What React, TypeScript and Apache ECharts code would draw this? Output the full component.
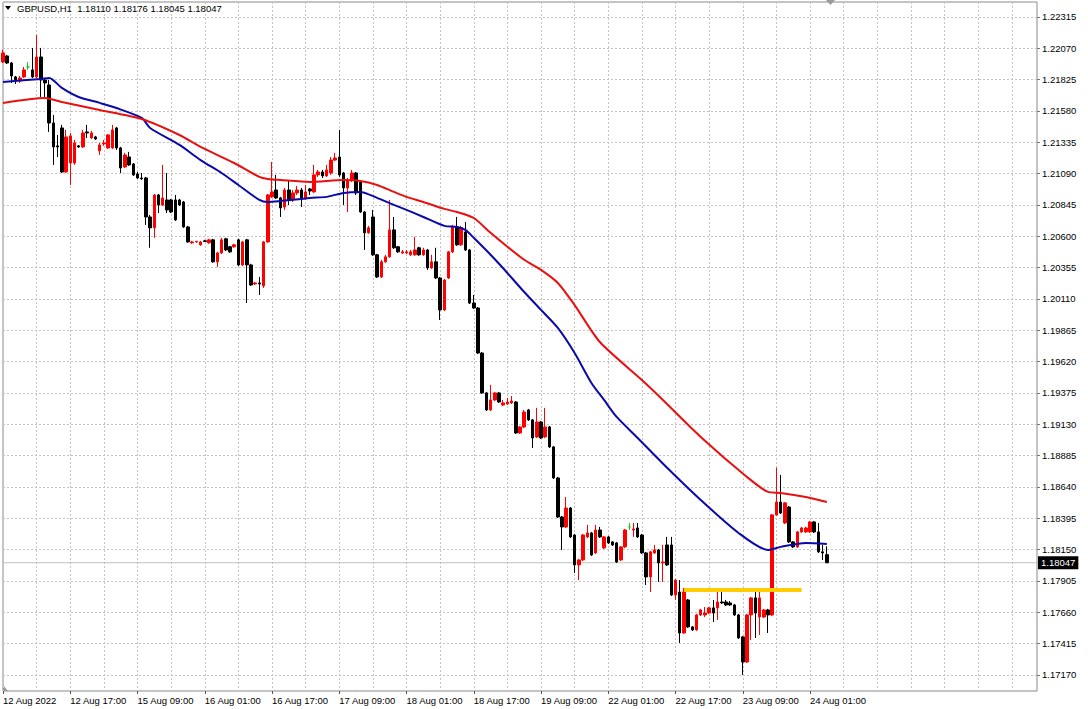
import React, { useEffect, useRef } from 'react';
import * as echarts from 'echarts';

const symbol = 'GBPUSD';
const timeframe = 'H1';
const FONT = "'Liberation Sans', Arial, sans-serif";

// x tick labels every 16 bars (MT4 style), first bar = 12 Aug 2022 01:00
const xTickLabels = [
  '12 Aug 2022', '12 Aug 17:00', '15 Aug 09:00', '16 Aug 01:00', '16 Aug 17:00',
  '17 Aug 09:00', '18 Aug 01:00', '18 Aug 17:00', '19 Aug 09:00', '22 Aug 01:00',
  '22 Aug 17:00', '23 Aug 09:00', '24 Aug 01:00',
];

const yTicks = [
  1.17170, 1.17415, 1.17660, 1.17905, 1.18150, 1.18395, 1.18640, 1.18885, 1.19130,
  1.19375, 1.19620, 1.19865, 1.20110, 1.20355, 1.20600, 1.20845, 1.21090, 1.21335,
  1.21580, 1.21825, 1.22070, 1.22315,
];

// [open, close, low, high]
const ohlc: number[][] = [
  [1.21963, 1.22034, 1.21955, 1.22057],
  [1.22010, 1.21955, 1.21948, 1.22018],
  [1.21955, 1.21854, 1.21799, 1.21963],
  [1.21846, 1.21815, 1.21791, 1.21854],
  [1.21815, 1.21838, 1.21799, 1.21854],
  [1.21846, 1.21901, 1.21838, 1.21924],
  [1.21924, 1.21924, 1.21901, 1.21963],
  [1.21901, 1.21846, 1.21838, 1.22073],
  [1.21846, 1.22002, 1.21838, 1.22174],
  [1.22002, 1.21822, 1.21689, 1.22073],
  [1.21822, 1.21799, 1.21689, 1.21830],
  [1.21783, 1.21486, 1.21416, 1.21822],
  [1.21486, 1.21299, 1.21158, 1.21549],
  [1.21307, 1.21299, 1.21220, 1.21392],
  [1.21447, 1.21103, 1.21095, 1.21471],
  [1.21103, 1.21377, 1.21095, 1.21432],
  [1.21173, 1.21385, 1.21001, 1.21408],
  [1.21173, 1.21330, 1.21158, 1.21353],
  [1.21307, 1.21299, 1.21291, 1.21314],
  [1.21299, 1.21408, 1.21291, 1.21432],
  [1.21416, 1.21408, 1.21369, 1.21471],
  [1.21369, 1.21408, 1.21361, 1.21424],
  [1.21377, 1.21361, 1.21353, 1.21385],
  [1.21268, 1.21314, 1.21236, 1.21330],
  [1.21322, 1.21330, 1.21307, 1.21353],
  [1.21291, 1.21392, 1.21283, 1.21400],
  [1.21291, 1.21432, 1.21283, 1.21471],
  [1.21447, 1.21291, 1.21275, 1.21455],
  [1.21291, 1.21134, 1.21095, 1.21299],
  [1.21142, 1.21236, 1.21134, 1.21252],
  [1.21220, 1.21158, 1.21150, 1.21260],
  [1.21165, 1.21080, 1.21072, 1.21173],
  [1.21087, 1.21056, 1.21048, 1.21103],
  [1.21056, 1.21050, 1.21040, 1.21095],
  [1.21056, 1.20751, 1.20689, 1.21064],
  [1.20751, 1.20666, 1.20510, 1.20767],
  [1.20666, 1.20923, 1.20588, 1.20931],
  [1.20923, 1.20845, 1.20782, 1.20931],
  [1.20845, 1.20900, 1.20837, 1.21158],
  [1.20884, 1.20806, 1.20782, 1.21095],
  [1.20884, 1.20790, 1.20782, 1.20892],
  [1.20884, 1.20728, 1.20720, 1.20923],
  [1.20884, 1.20845, 1.20837, 1.20892],
  [1.20868, 1.20673, 1.20666, 1.20876],
  [1.20673, 1.20556, 1.20549, 1.20681],
  [1.20549, 1.20556, 1.20541, 1.20564],
  [1.20556, 1.20560, 1.20549, 1.20564],
  [1.20533, 1.20556, 1.20525, 1.20564],
  [1.20564, 1.20560, 1.20556, 1.20572],
  [1.20549, 1.20572, 1.20541, 1.20580],
  [1.20572, 1.20400, 1.20393, 1.20580],
  [1.20400, 1.20470, 1.20360, 1.20478],
  [1.20470, 1.20572, 1.20462, 1.20588],
  [1.20580, 1.20493, 1.20485, 1.20588],
  [1.20518, 1.20478, 1.20470, 1.20525],
  [1.20518, 1.20533, 1.20510, 1.20541],
  [1.20572, 1.20376, 1.20368, 1.20580],
  [1.20376, 1.20556, 1.20368, 1.20564],
  [1.20572, 1.20376, 1.20078, 1.20580],
  [1.20376, 1.20219, 1.20212, 1.20385],
  [1.20227, 1.20235, 1.20219, 1.20243],
  [1.20235, 1.20227, 1.20141, 1.20282],
  [1.20212, 1.20556, 1.20196, 1.20564],
  [1.20556, 1.20923, 1.20549, 1.20931],
  [1.20908, 1.20947, 1.20900, 1.21181],
  [1.20962, 1.20900, 1.20892, 1.21080],
  [1.20900, 1.20822, 1.20751, 1.20908],
  [1.20829, 1.20962, 1.20806, 1.20978],
  [1.20962, 1.20884, 1.20845, 1.21040],
  [1.20884, 1.20939, 1.20868, 1.20962],
  [1.20939, 1.20962, 1.20923, 1.20993],
  [1.20962, 1.20900, 1.20829, 1.20978],
  [1.20900, 1.20947, 1.20884, 1.21001],
  [1.20970, 1.20954, 1.20923, 1.20978],
  [1.20947, 1.21080, 1.20939, 1.21158],
  [1.21080, 1.21103, 1.21064, 1.21119],
  [1.21103, 1.21072, 1.21056, 1.21119],
  [1.21072, 1.21119, 1.21064, 1.21158],
  [1.21095, 1.21196, 1.21080, 1.21220],
  [1.21196, 1.21212, 1.21189, 1.21252],
  [1.21220, 1.21080, 1.21064, 1.21432],
  [1.21095, 1.20978, 1.20845, 1.21103],
  [1.20978, 1.21040, 1.20790, 1.21056],
  [1.21040, 1.21095, 1.21025, 1.21119],
  [1.21095, 1.20939, 1.20923, 1.21103],
  [1.21025, 1.20790, 1.20782, 1.21040],
  [1.20790, 1.20627, 1.20493, 1.20798],
  [1.20627, 1.20666, 1.20619, 1.20681],
  [1.20751, 1.20455, 1.20447, 1.20806],
  [1.20455, 1.20282, 1.20274, 1.20462],
  [1.20282, 1.20400, 1.20274, 1.20416],
  [1.20400, 1.20439, 1.20393, 1.20455],
  [1.20439, 1.20650, 1.20432, 1.20884],
  [1.20650, 1.20510, 1.20501, 1.20751],
  [1.20518, 1.20478, 1.20470, 1.20525],
  [1.20470, 1.20478, 1.20462, 1.20493],
  [1.20470, 1.20478, 1.20462, 1.20493],
  [1.20455, 1.20478, 1.20447, 1.20493],
  [1.20455, 1.20493, 1.20447, 1.20595],
  [1.20510, 1.20455, 1.20447, 1.20518],
  [1.20455, 1.20493, 1.20447, 1.20510],
  [1.20493, 1.20352, 1.20337, 1.20501],
  [1.20352, 1.20400, 1.20345, 1.20455],
  [1.20400, 1.20274, 1.20266, 1.20510],
  [1.20274, 1.20024, 1.19946, 1.20282],
  [1.20024, 1.20258, 1.20016, 1.20266],
  [1.20274, 1.20478, 1.20266, 1.20485],
  [1.20478, 1.20673, 1.20470, 1.20689],
  [1.20673, 1.20533, 1.20525, 1.20751],
  [1.20533, 1.20666, 1.20525, 1.20681],
  [1.20634, 1.20493, 1.20485, 1.20712],
  [1.20493, 1.20078, 1.20070, 1.20501],
  [1.20078, 1.20039, 1.20031, 1.20141],
  [1.20039, 1.19687, 1.19680, 1.20047],
  [1.19687, 1.19375, 1.19367, 1.19695],
  [1.19375, 1.19242, 1.19234, 1.19383],
  [1.19242, 1.19320, 1.19234, 1.19437],
  [1.19320, 1.19375, 1.19312, 1.19383],
  [1.19375, 1.19304, 1.19297, 1.19383],
  [1.19281, 1.19297, 1.19273, 1.19320],
  [1.19289, 1.19304, 1.19281, 1.19336],
  [1.19297, 1.19312, 1.19289, 1.19351],
  [1.19304, 1.19062, 1.19054, 1.19312],
  [1.19062, 1.19109, 1.19054, 1.19117],
  [1.19109, 1.19226, 1.19101, 1.19242],
  [1.19242, 1.19164, 1.19156, 1.19250],
  [1.19164, 1.19023, 1.18945, 1.19172],
  [1.19031, 1.19148, 1.19023, 1.19258],
  [1.19148, 1.19023, 1.19015, 1.19156],
  [1.19031, 1.19109, 1.19023, 1.19258],
  [1.19109, 1.18953, 1.18945, 1.19117],
  [1.18953, 1.18710, 1.18702, 1.18960],
  [1.18710, 1.18405, 1.18397, 1.18718],
  [1.18405, 1.18327, 1.18147, 1.18413],
  [1.18327, 1.18475, 1.18319, 1.18561],
  [1.18475, 1.18249, 1.18241, 1.18483],
  [1.18264, 1.18030, 1.17967, 1.18272],
  [1.18030, 1.18069, 1.17912, 1.18077],
  [1.18069, 1.18264, 1.18061, 1.18272],
  [1.18249, 1.18280, 1.18241, 1.18343],
  [1.18280, 1.18108, 1.18100, 1.18288],
  [1.18124, 1.18303, 1.18116, 1.18343],
  [1.18303, 1.18249, 1.18241, 1.18327],
  [1.18163, 1.18249, 1.18155, 1.18257],
  [1.18249, 1.18202, 1.18194, 1.18257],
  [1.18210, 1.18186, 1.18178, 1.18217],
  [1.18202, 1.18053, 1.18046, 1.18210],
  [1.18069, 1.18171, 1.18061, 1.18178],
  [1.18171, 1.18303, 1.18163, 1.18311],
  [1.18327, 1.18327, 1.18303, 1.18358],
  [1.18303, 1.18311, 1.18249, 1.18358],
  [1.18319, 1.18249, 1.18241, 1.18358],
  [1.18264, 1.18124, 1.18116, 1.18272],
  [1.18124, 1.17936, 1.17873, 1.18132],
  [1.17936, 1.18132, 1.17818, 1.18140],
  [1.18124, 1.18147, 1.18116, 1.18186],
  [1.18147, 1.18046, 1.17897, 1.18155],
  [1.18046, 1.18053, 1.17897, 1.18186],
  [1.18186, 1.18030, 1.18022, 1.18249],
  [1.18186, 1.17795, 1.17787, 1.18249],
  [1.17795, 1.17912, 1.17756, 1.17920],
  [1.17818, 1.17498, 1.17420, 1.17912],
  [1.17498, 1.17818, 1.17490, 1.17850],
  [1.17756, 1.17545, 1.17537, 1.17764],
  [1.17545, 1.17522, 1.17514, 1.17553],
  [1.17522, 1.17639, 1.17514, 1.17647],
  [1.17639, 1.17678, 1.17631, 1.17686],
  [1.17639, 1.17654, 1.17623, 1.17701],
  [1.17654, 1.17694, 1.17647, 1.17701],
  [1.17694, 1.17654, 1.17584, 1.17756],
  [1.17694, 1.17740, 1.17600, 1.17818],
  [1.17740, 1.17733, 1.17725, 1.17850],
  [1.17740, 1.17717, 1.17709, 1.17756],
  [1.17733, 1.17717, 1.17709, 1.17748],
  [1.17717, 1.17639, 1.17631, 1.17725],
  [1.17639, 1.17459, 1.17451, 1.17647],
  [1.17467, 1.17271, 1.17170, 1.17475],
  [1.17271, 1.17639, 1.17263, 1.17647],
  [1.17639, 1.17772, 1.17443, 1.17779],
  [1.17772, 1.17654, 1.17459, 1.17818],
  [1.17623, 1.17772, 1.17482, 1.17834],
  [1.17623, 1.17678, 1.17615, 1.17686],
  [1.17678, 1.17639, 1.17498, 1.17686],
  [1.17639, 1.18421, 1.17631, 1.18428],
  [1.18421, 1.18522, 1.18413, 1.18790],
  [1.18522, 1.18436, 1.18428, 1.18734],
  [1.18358, 1.18515, 1.18350, 1.18522],
  [1.18483, 1.18210, 1.18202, 1.18491],
  [1.18210, 1.18171, 1.18163, 1.18217],
  [1.18171, 1.18288, 1.18163, 1.18296],
  [1.18288, 1.18319, 1.18280, 1.18327],
  [1.18288, 1.18319, 1.18280, 1.18327],
  [1.18288, 1.18366, 1.18280, 1.18374],
  [1.18366, 1.18288, 1.18280, 1.18374],
  [1.18288, 1.18132, 1.18124, 1.18358],
  [1.18132, 1.18124, 1.18069, 1.18186],
  [1.18110, 1.18047, 1.18045, 1.18176],
];

// moving averages: [bar index, value]
const maBlue: number[][] = [
  [0, 1.21807], [9, 1.21830], [11, 1.21838], [14, 1.21760], [18, 1.21689], [23, 1.21643],
  [27, 1.21603], [33, 1.21525], [35, 1.21447], [42, 1.21314], [47, 1.21196], [52, 1.21095],
  [56, 1.21001], [61, 1.20884], [63, 1.20868], [66, 1.20876], [73, 1.20900], [77, 1.20908],
  [81, 1.20939], [85, 1.20947], [89, 1.20900], [93, 1.20845], [96, 1.20806], [100, 1.20751],
  [105, 1.20681], [108, 1.20673], [110, 1.20650], [112, 1.20588], [116, 1.20455], [120, 1.20313],
  [124, 1.20164], [128, 1.20024], [132, 1.19883], [136, 1.19687], [140, 1.19453], [143, 1.19320],
  [146, 1.19187], [151, 1.19023], [158, 1.18790], [166, 1.18538], [175, 1.18280], [182, 1.18147],
  [185, 1.18171], [191, 1.18202], [196, 1.18194],
];
const maRed: number[][] = [
  [0, 1.21643], [10, 1.21682], [14, 1.21650], [23, 1.21588], [33, 1.21517], [42, 1.21392],
  [47, 1.21299], [55, 1.21173], [61, 1.21064], [63, 1.21048], [66, 1.21040], [73, 1.21025],
  [81, 1.21040], [85, 1.21033], [89, 1.21001], [93, 1.20947], [96, 1.20908], [100, 1.20868],
  [105, 1.20814], [108, 1.20790], [112, 1.20743], [116, 1.20627], [120, 1.20518], [124, 1.20416],
  [128, 1.20337], [132, 1.20235], [136, 1.20062], [142, 1.19773], [152, 1.19476], [157, 1.19320],
  [166, 1.19031], [177, 1.18718], [182, 1.18601], [185, 1.18593], [191, 1.18561], [196, 1.18522],
];

const levelPrice = 1.17834;
const levelFrom = 162;
const levelTo = 190;
const lastPrice = 1.18047;
const TOTAL_SLOTS = 247;

function buildCategories(): string[] {
  const mons = ['Jan', 'Feb', 'Mar', 'Apr', 'May', 'Jun', 'Jul', 'Aug', 'Sep', 'Oct', 'Nov', 'Dec'];
  const out: string[] = [];
  let t = Date.UTC(2022, 7, 12, 1);
  while (out.length < TOTAL_SLOTS) {
    const d = new Date(t);
    const wd = d.getUTCDay();
    if (wd !== 0 && wd !== 6) {
      const hh = String(d.getUTCHours()).padStart(2, '0');
      out.push(`${d.getUTCDate()} ${mons[d.getUTCMonth()]} ${hh}:00`);
    }
    t += 3600000;
  }
  return out;
}

export default function App() {
  const ref = useRef<HTMLDivElement>(null);
  useEffect(() => {
    if (!ref.current) return;
    const chart = echarts.init(ref.current, undefined, { renderer: 'svg' });
    const categories = buildCategories();
    const last = ohlc[ohlc.length - 1];
    const titleText = `${symbol},${timeframe}  ${last[0].toFixed(5)} ${last[3].toFixed(5)} ${last[2].toFixed(5)} ${last[1].toFixed(5)}`;
    const labelFn = (idx: number) => idx % 16 === 0 && idx / 16 < xTickLabels.length;
    chart.setOption({
      animation: false,
      backgroundColor: '#ffffff',
      textStyle: { fontFamily: FONT },
      title: {
        text: titleText,
        left: 17,
        top: 3,
        padding: 0,
        textStyle: { fontSize: 9.5, fontWeight: 'normal', color: '#000', fontFamily: FONT },
      },
      grid: {
        left: 3, right: 51, top: 2, bottom: 18,
        show: true, borderColor: '#8a8a8a', borderWidth: 1, backgroundColor: '#fff',
      },
      xAxis: {
        type: 'category',
        data: categories,
        boundaryGap: false,
        axisLine: { show: false },
        axisTick: { show: true, interval: labelFn, length: 3, lineStyle: { color: '#555' } },
        axisLabel: {
          interval: labelFn,
          formatter: (_v: string, idx: number) => xTickLabels[Math.round(idx / 16)] ?? '',
          align: 'left',
          margin: 4,
          fontSize: 9.5,
          color: '#000',
          fontFamily: FONT,
          hideOverlap: false,
        },
        splitLine: { show: true, interval: 7, lineStyle: { color: '#c4c4c4', type: [2, 2], width: 1 } },
      },
      yAxis: {
        type: 'value',
        position: 'right',
        scale: true,
        min: 1.17044,
        max: 1.22432,
        axisLine: { show: false },
        axisTick: { show: true, customValues: yTicks, length: 3, lineStyle: { color: '#777' } },
        axisLabel: {
          customValues: yTicks,
          formatter: (v: number) => v.toFixed(5),
          margin: 5,
          fontSize: 9.5,
          color: '#000',
          fontFamily: FONT,
        },
        splitLine: { show: true, lineStyle: { color: '#c4c4c4', type: [2, 2], width: 1 } },
      },
      graphic: [
        { type: 'polygon', shape: { points: [[5, 6], [11, 6], [8, 10]] }, style: { fill: '#000' } },
        { type: 'polygon', shape: { points: [[826, 0], [835, 0], [830.5, 5]] }, style: { fill: '#9a9a9a' } },
        { type: 'polygon', shape: { points: [[3, 685], [3, 691], [8, 691]] }, style: { fill: '#9a9a9a' } },
      ],
      series: [
        {
          type: 'line',
          data: [[0, lastPrice], [TOTAL_SLOTS - 1, lastPrice]],
          symbol: 'none',
          silent: true,
          lineStyle: { color: '#c0c0c0', width: 1 },
          z: 1,
          endLabel: {
            show: true,
            formatter: lastPrice.toFixed(5),
            backgroundColor: '#000',
            color: '#fff',
            padding: [2, 3, 1, 3],
            fontSize: 9.5,
            fontFamily: FONT,
            distance: 1,
          },
        },
        {
          type: 'candlestick',
          data: ohlc,
          barWidth: 3,
          itemStyle: {
            color: '#ff0000', color0: '#000000',
            borderColor: '#ff0000', borderColor0: '#000000',
            borderColorDoji: '#22c022', borderWidth: 1,
          },
          emphasis: { disabled: true },
          z: 3,
        },
        {
          type: 'line', data: maBlue, symbol: 'none', smooth: 0.25,
          lineStyle: { color: '#0a0aa8', width: 2 }, silent: true, z: 4,
        },
        {
          type: 'line', data: maRed, symbol: 'none', smooth: 0.25,
          lineStyle: { color: '#e81010', width: 2 }, silent: true, z: 4,
        },
        {
          type: 'line', data: [[levelFrom, levelPrice], [levelTo, levelPrice]], symbol: 'none',
          lineStyle: { color: '#ffcc00', width: 4, cap: 'butt' }, silent: true, z: 5,
        },
      ],
    });
    return () => chart.dispose();
  }, []);
  return (
    <div
      ref={ref}
      style={{ position: 'fixed', left: 0, top: 0, width: 1088, height: 709, background: '#fff' }}
    />
  );
}
